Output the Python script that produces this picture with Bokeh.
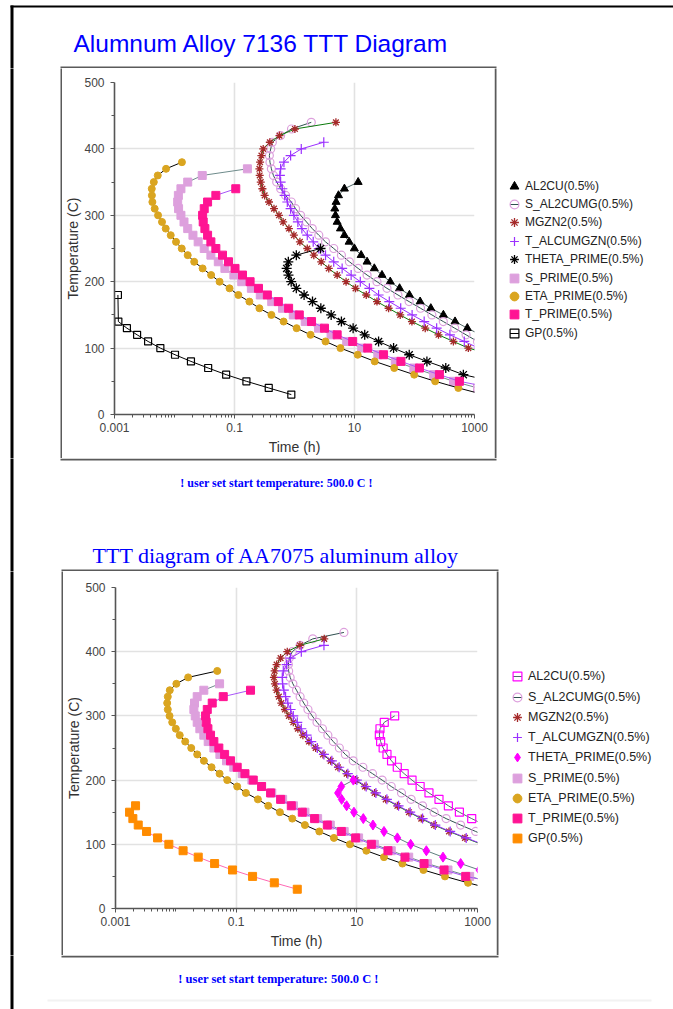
from bokeh.plotting import figure
from bokeh.layouts import column, row
from bokeh.models import (BoxAnnotation, FixedTicker, Label, Legend, LegendItem,
                          Range1d)
from bokeh.embed import file_html
from bokeh.resources import INLINE

# ---------------------------------------------------------------------------
# Alloy 7136: isothermal temperature (C) and time (h) to reach 0.5 % of phase
# ---------------------------------------------------------------------------
A7136_AL2CU_T = [350, 340, 330, 320, 310, 300, 290, 280, 270, 260, 250, 240,
                 230, 220, 210, 200, 190, 180, 170, 160, 150, 140, 130, 120]
A7136_AL2CU_H = [11.5, 6.79, 5.41, 4.94, 4.70, 4.82, 5.14, 5.83, 6.79, 8.13,
                 9.95, 12.9, 16.2, 21.4, 28.7, 39.4, 56.4, 82.2, 124, 187,
                 303, 474, 759, 1259]

A7136_S_AL2CUMG_T = [440, 430, 420, 410, 400, 390, 380, 370, 360, 350, 340,
                     330, 320, 310, 300, 290, 280, 270, 260, 250, 240, 230,
                     220, 210, 200, 190, 180, 170, 160, 150, 140, 130, 120, 110]
A7136_S_AL2CUMG_H = [1.905, 0.891, 0.587, 0.427, 0.401, 0.381, 0.39, 0.412,
                     0.445, 0.505, 0.587, 0.711, 0.885, 1.042, 1.262, 1.585,
                     1.977, 2.541, 3.289, 4.508, 6.053, 8.222, 11.5, 16.2,
                     23.7, 34.8, 53.0, 81.3, 126, 195, 302, 468, 724, 1122]

A7136_MGZN2_T = [440, 430, 420, 410, 400, 390, 380, 370, 360, 350, 340, 330,
                 320, 310, 300, 290, 280, 270, 260, 250, 240, 230, 220, 210,
                 200, 190, 180, 170, 160, 150, 140, 130, 120, 110, 100, 90]
A7136_MGZN2_H = [4.90, 1.016, 0.562, 0.388, 0.301, 0.281, 0.267, 0.26, 0.263,
                 0.274, 0.292, 0.318, 0.376, 0.455, 0.551, 0.646, 0.807, 0.977,
                 1.23, 1.633, 2.099, 2.786, 3.724, 5.14, 7.24, 10.4, 15.7, 23.7,
                 37.0, 57.8, 90.6, 151, 251, 445, 789, 1995]

A7136_T_ALCUMGZN_T = [410, 400, 390, 380, 370, 360, 350, 340, 330, 320, 310,
                      300, 290, 280, 270, 260, 250, 240, 230, 220, 210, 200,
                      190, 180, 170, 160, 150, 140, 130, 120, 110, 100]
A7136_T_ALCUMGZN_H = [3.076, 1.297, 0.861, 0.667, 0.587, 0.571, 0.587, 0.627,
                      0.685, 0.759, 0.861, 0.977, 1.138, 1.327, 1.633, 2.051,
                      2.541, 3.289, 4.508, 6.223, 8.79, 12.5, 17.7, 25.2, 38.0,
                      58.9, 91.2, 145, 234, 389, 676, 1175]

A7136_THETA_PRIME_T = [250, 240, 230, 220, 210, 200, 190, 180, 170, 160, 150,
                       140, 130, 120, 110, 100, 90, 80, 70, 60, 50]
A7136_THETA_PRIME_H = [2.716, 1.072, 0.789, 0.74, 0.794, 0.881, 1.072, 1.445,
                       1.995, 2.748, 4.083, 6.053, 9.484, 14.8, 25.2, 44.8,
                       81.7, 161, 332, 652, 1995]

A7136_S_PRIME_T = [370, 360, 350, 340, 330, 320, 310, 300, 290, 280, 270, 260,
                   250, 240, 230, 220, 210, 200, 190, 180, 170, 160, 150, 140,
                   130, 120, 110, 100, 90, 80, 70, 60, 50, 40]
A7136_S_PRIME_H = [0.164, 0.029, 0.0166, 0.0128, 0.0116, 0.0113, 0.0117,
                   0.0128, 0.0144, 0.0166, 0.0203, 0.0248, 0.0313, 0.0404,
                   0.0537, 0.0692, 0.0977, 0.132, 0.191, 0.269, 0.417, 0.631,
                   0.955, 1.51, 2.51, 4.07, 7.41, 13.2, 24.5, 47.9, 97.7, 209,
                   447, 1122]

A7136_ETA_PRIME_T = [380, 370, 360, 350, 340, 330, 320, 310, 300, 290, 280,
                     270, 260, 250, 240, 230, 220, 210, 200, 190, 180, 170,
                     160, 150, 140, 130, 120, 110, 100, 90, 80, 70, 60, 50, 40,
                     30]
A7136_ETA_PRIME_H = [0.0133, 0.00723, 0.00526, 0.00452, 0.00418, 0.0042,
                     0.00428, 0.00468, 0.00532, 0.00619, 0.00714, 0.00865,
                     0.0106, 0.0132, 0.0166, 0.0213, 0.0294, 0.0408, 0.0564,
                     0.0826, 0.116, 0.177, 0.26, 0.412, 0.659, 1.084, 1.854,
                     3.289, 5.834, 11.3, 21.7, 46.0, 98.9, 221, 538, 1413]

A7136_T_PRIME_T = [340, 330, 320, 310, 300, 290, 280, 270, 260, 250, 240, 230,
                   220, 210, 200, 190, 180, 170, 160, 150, 140, 130, 120, 110,
                   100, 90, 80, 70, 60, 50, 40]
A7136_T_PRIME_H = [0.105, 0.0489, 0.0356, 0.0313, 0.0294, 0.0301, 0.0321,
                   0.0356, 0.0404, 0.0489, 0.0631, 0.0794, 0.102, 0.136, 0.182,
                   0.251, 0.353, 0.538, 0.798, 1.202, 1.923, 3.162, 5.14,
                   9.33, 16.6, 30.5, 59.4, 121, 260, 560, 1995]

A7136_GP_T = [180, 140, 130, 120, 110, 100, 90, 80, 70, 60, 50, 40, 30]
A7136_GP_H = [0.00114, 0.00116, 0.00161, 0.00238, 0.00363, 0.00581, 0.0102,
              0.0188, 0.0364, 0.0726, 0.158, 0.372, 0.885]

# ---------------------------------------------------------------------------
# Alloy 7075
# ---------------------------------------------------------------------------
A7075_AL2CU_T = [300, 290, 280, 270, 260, 250, 240, 230, 220, 210, 200, 190,
                 180, 170, 160, 150, 140, 130]
A7075_AL2CU_H = [42.4, 28.5, 24.2, 23.6, 24.8, 27.3, 31.6, 37.6, 46.8, 61.0,
                 82.2, 112, 157, 230, 329, 501, 802, 1318]

A7075_S_AL2CUMG_T = [430, 420, 410, 400, 390, 380, 370, 360, 350, 340, 330,
                     320, 310, 300, 290, 280, 270, 260, 250, 240, 230, 220,
                     210, 200, 190, 180, 170, 160, 150, 140, 130, 120, 110]
A7075_S_AL2CUMG_H = [6.11, 1.862, 1.148, 0.851, 0.759, 0.733, 0.741, 0.785,
                     0.871, 1.0, 1.148, 1.318, 1.549, 1.82, 2.188, 2.692,
                     3.311, 4.074, 5.129, 6.457, 8.71, 12.6, 18.2, 26.3, 37.2,
                     55.0, 79.4, 123, 191, 302, 525, 933, 1585]

A7075_MGZN2_T = [420, 410, 400, 390, 380, 370, 360, 350, 340, 330, 320, 310,
                 300, 290, 280, 270, 260, 250, 240, 230, 220, 210, 200, 190,
                 180, 170, 160, 150, 140, 130, 120, 110, 100]
A7075_MGZN2_H = [2.884, 1.14, 0.703, 0.545, 0.468, 0.434, 0.422, 0.439, 0.468,
                 0.511, 0.56, 0.643, 0.748, 0.885, 1.054, 1.276, 1.607, 2.075,
                 2.742, 3.681, 4.864, 6.776, 9.55, 13.6, 19.7, 30.1, 47.0,
                 73.1, 117, 190, 337, 621, 1175]

A7075_T_ALCUMGZN_T = [410, 400, 390, 380, 370, 360, 350, 340, 330, 320, 310,
                      300, 290, 280, 270, 260, 250, 240, 230, 220, 210, 200,
                      190, 180, 170, 160, 150, 140, 130, 120, 110, 100]
A7075_T_ALCUMGZN_H = [2.851, 1.202, 0.798, 0.686, 0.604, 0.581, 0.589, 0.617,
                      0.659, 0.719, 0.798, 0.885, 1.03, 1.202, 1.469, 1.758,
                      2.213, 2.851, 3.855, 5.093, 7.096, 10.0, 14.3, 20.7,
                      31.5, 49.2, 76.6, 123, 200, 353, 650, 1230]

A7075_THETA_PRIME_T = [200, 190, 180, 170, 160, 150, 140, 130, 120, 110, 100,
                       90, 80, 70, 60]
A7075_THETA_PRIME_H = [8.75, 5.534, 4.864, 5.598, 6.776, 8.954, 12.8, 18.5,
                       28.2, 47.0, 78.0, 142, 268, 526, 1072]

A7075_S_PRIME_T = [350, 340, 330, 320, 310, 300, 290, 280, 270, 260, 250, 240,
                   230, 220, 210, 200, 190, 180, 170, 160, 150, 140, 130, 120,
                   110, 100, 90, 80, 70, 60, 50, 40]
A7075_S_PRIME_H = [0.0531, 0.0291, 0.0226, 0.0204, 0.0199, 0.021, 0.0226,
                   0.025, 0.0291, 0.0344, 0.0427, 0.0537, 0.0692, 0.0912,
                   0.126, 0.182, 0.263, 0.389, 0.589, 0.891, 1.38, 2.24, 3.63,
                   6.17, 10.7, 19.5, 37.2, 72.4, 148, 324, 741, 1778]

A7075_ETA_PRIME_T = [370, 360, 350, 340, 330, 320, 310, 300, 290, 280, 270,
                     260, 250, 240, 230, 220, 210, 200, 190, 180, 170, 160,
                     150, 140, 130, 120, 110, 100, 90, 80, 70, 60, 50, 40, 30]
A7075_ETA_PRIME_H = [0.0486, 0.016, 0.0102, 0.00794, 0.00736, 0.00719,
                     0.00736, 0.00787, 0.00871, 0.01, 0.0116, 0.0143, 0.018,
                     0.0226, 0.0292, 0.0391, 0.0531, 0.0711, 0.104, 0.145,
                     0.229, 0.34, 0.531, 0.851, 1.377, 2.388, 4.169, 7.691,
                     14.4, 28.2, 56.9, 127, 289, 697, 1778]

A7075_T_PRIME_T = [340, 330, 320, 310, 300, 290, 280, 270, 260, 250, 240, 230,
                   220, 210, 200, 190, 180, 170, 160, 150, 140, 130, 120, 110,
                   100, 90, 80, 70, 60, 50, 40]
A7075_T_PRIME_H = [0.173, 0.0611, 0.0401, 0.0332, 0.0311, 0.0319, 0.034,
                   0.0376, 0.0427, 0.0516, 0.0643, 0.0807, 0.104, 0.14, 0.192,
                   0.264, 0.372, 0.545, 0.82, 1.247, 1.995, 3.243, 5.534, 9.55,
                   17.4, 32.8, 62.8, 130, 279, 637, 2239]

A7075_GP_T = [160, 150, 140, 130, 120, 110, 100, 90, 80, 70, 60, 50, 40, 30]
A7075_GP_H = [0.00215, 0.00171, 0.00194, 0.00238, 0.00327, 0.00498, 0.00766,
              0.0132, 0.0235, 0.0439, 0.0871, 0.187, 0.429, 1.03]

SUFFIX = "(0.5%)"
START_NOTE = "! user set start temperature: 500.0 C !"

# colours
BLUE = "#0000ff"
PLUM = "#dda0dd"
VIOLET = "#9b30ff"
BROWN = "#a52a2a"
GOLD = "#daa520"
DEEPPINK = "#ff1493"
MAGENTA = "#ff00ff"
SLATE = "#2f4f4f"
GREY_TEAL = "#6e8b8b"
BOX_GREY = "#5a5a5a"


def series(name, t, h, marker, size, fill, edge, path, lw=1.0, keyline=False):
    return dict(name=name, t=t, h=h, marker=marker, size=size, fill=fill,
                edge=edge, path=path, lw=lw, keyline=keyline)


SERIES_7136 = [
    series("AL2CU", A7136_AL2CU_T, A7136_AL2CU_H, "triangle", 8, "black", "black", "#4f6666"),
    series("S_AL2CUMG", A7136_S_AL2CUMG_T, A7136_S_AL2CUMG_H, "circle", 8, None, PLUM, SLATE, 1.2, True),
    series("MGZN2", A7136_MGZN2_T, A7136_MGZN2_H, "asterisk", 8, None, BROWN, "#0b7a0b", 1.3),
    series("T_ALCUMGZN", A7136_T_ALCUMGZN_T, A7136_T_ALCUMGZN_H, "cross", 10, None, VIOLET, VIOLET, 1.2),
    series("THETA_PRIME", A7136_THETA_PRIME_T, A7136_THETA_PRIME_H, "asterisk", 10, None, "black", "black", 1.3),
    series("S_PRIME", A7136_S_PRIME_T, A7136_S_PRIME_H, "square", 8, PLUM, PLUM, GREY_TEAL),
    series("ETA_PRIME", A7136_ETA_PRIME_T, A7136_ETA_PRIME_H, "circle", 7, GOLD, GOLD, "black"),
    series("T_PRIME", A7136_T_PRIME_T, A7136_T_PRIME_H, "square", 8, DEEPPINK, DEEPPINK, "#a855f7"),
    series("GP", A7136_GP_T, A7136_GP_H, "square", 7, None, "black", "black", 1.2, True),
]

SERIES_7075 = [
    series("AL2CU", A7075_AL2CU_T, A7075_AL2CU_H, "square", 8, None, MAGENTA, "#4f6a6a", 1.2, True),
    series("S_AL2CUMG", A7075_S_AL2CUMG_T, A7075_S_AL2CUMG_H, "circle", 8, None, PLUM, SLATE, 1.2, True),
    series("MGZN2", A7075_MGZN2_T, A7075_MGZN2_H, "asterisk", 8, None, BROWN, "#0b7a0b", 1.3),
    series("T_ALCUMGZN", A7075_T_ALCUMGZN_T, A7075_T_ALCUMGZN_H, "cross", 10, None, VIOLET, VIOLET, 1.2),
    series("THETA_PRIME", A7075_THETA_PRIME_T, A7075_THETA_PRIME_H, "diamond", 10, MAGENTA, MAGENTA, "#5f7f7f"),
    series("S_PRIME", A7075_S_PRIME_T, A7075_S_PRIME_H, "square", 8, PLUM, PLUM, GREY_TEAL),
    series("ETA_PRIME", A7075_ETA_PRIME_T, A7075_ETA_PRIME_H, "circle", 7, GOLD, GOLD, "black"),
    series("T_PRIME", A7075_T_PRIME_T, A7075_T_PRIME_H, "square", 8, DEEPPINK, DEEPPINK, "#a855f7"),
    series("GP", A7075_GP_T, A7075_GP_H, "square", 8, "#ff8c00", "#ff8c00", "#ff69b4"),
]

X_MAJOR = [0.001, 0.1, 10, 1000]
X_MINOR = [m * 10.0 ** e for e in range(-3, 3) for m in range(1, 10)]
Y_MAJOR = [0, 100, 200, 300, 400, 500]
Y_MINOR = [50, 150, 250, 350, 450]

KEY_W, KEY_H = 22, 26   # legend glyph box


def strip(w, h):
    """A plain drawing surface in pixel units (y grows downwards)."""
    s = figure(width=w, height=h, x_range=Range1d(0, w), y_range=Range1d(h, 0),
               output_backend="svg", toolbar_location=None,
               x_axis_location=None, y_axis_location=None,
               min_border=0, min_border_left=0, min_border_right=0,
               min_border_top=0, min_border_bottom=0, frame_align=False,
               background_fill_color="white", border_fill_color="white")
    s.outline_line_color = None
    s.grid.visible = False
    return s


def rect(s, left, right, top, bottom, color):
    s.add_layout(BoxAnnotation(left=left, right=right, top=top, bottom=bottom,
                               fill_color=color, fill_alpha=1.0,
                               line_color=None))


def text(s, x, y, txt, font, size, style="normal", align="left"):
    s.add_layout(Label(x=x, y=y, text=txt, text_font=font,
                       text_font_size=size, text_font_style=style,
                       text_color=BLUE, text_align=align,
                       text_baseline="alphabetic"))


def page_edge(s, h, top=-4):
    # runs past the strip ends so consecutive strips join without a seam
    rect(s, 10, 13, top, h + 4, "black")


def ttt_chart(all_series, w, h, borders):
    left, right, top, bottom = borders
    p = figure(width=w, height=h, x_axis_type="log",
               x_range=Range1d(0.001, 1000), y_range=Range1d(0, 500),
               output_backend="svg", toolbar_location=None,
               min_border_left=left, min_border_right=right,
               min_border_top=top, min_border_bottom=bottom,
               frame_align=False,
               background_fill_color="white", border_fill_color="white")
    p.outline_line_color = None

    xa, ya = p.xaxis[0], p.yaxis[0]
    xa.ticker = FixedTicker(ticks=X_MAJOR, minor_ticks=X_MINOR)
    xa.major_label_overrides = {0.001: "0.001", 0.1: "0.1", 10: "10", 1000: "1000"}
    ya.ticker = FixedTicker(ticks=Y_MAJOR, minor_ticks=Y_MINOR)
    xa.axis_label = "Time (h)"
    ya.axis_label = "Temperature (C)"
    for ax in (xa, ya):
        ax.axis_line_color = "#555555"
        ax.axis_line_width = 1.6
        ax.major_tick_line_color = "#555555"
        ax.minor_tick_line_color = "#555555"
        ax.major_tick_in = 0
        ax.major_tick_out = 4
        ax.minor_tick_in = 0
        ax.minor_tick_out = 3
        ax.major_label_text_font = "Liberation Sans"
        ax.major_label_text_font_size = "12px"
        ax.major_label_text_color = "#444444"
        ax.axis_label_text_font = "Liberation Sans"
        ax.axis_label_text_font_size = "14px"
        ax.axis_label_text_font_style = "normal"
        ax.axis_label_text_color = "#333333"
    xa.major_label_standoff = 4
    xa.axis_label_standoff = 4
    ya.major_label_standoff = 6
    ya.axis_label_standoff = 0

    p.xgrid.ticker = FixedTicker(ticks=[0.1, 10])
    p.ygrid.ticker = FixedTicker(ticks=[100, 200, 300, 400, 500])
    for g in (p.xgrid[0], p.ygrid[0]):
        g.grid_line_color = "#e2e2e2"
        g.grid_line_width = 1.6

    for s in all_series:
        p.line(s["h"], s["t"], line_color=s["path"], line_width=1)
        p.scatter(s["h"], s["t"], marker=s["marker"], size=s["size"],
                  fill_color=s["fill"], line_color=s["edge"],
                  line_width=s["lw"])
    return p


def legend_panel(all_series, w, h, key_left, first_row, pitch, font_size):
    """Right-hand column holding the phase key of one diagram."""
    s = strip(w, h)
    rect(s, 0, 2, -4, h + 4, BOX_GREY)  # right edge of the diagram box
    for k, ser in enumerate(all_series):
        # hidden stand-ins carrying the series' styling for the key
        rs = []
        if ser["keyline"]:
            rs.append(s.scatter(x=ser["h"], y=ser["t"], marker="dash",
                                size=ser["size"], line_color=ser["path"],
                                line_width=1, visible=False))
        rs.append(s.scatter(x=ser["h"], y=ser["t"], marker=ser["marker"],
                            size=ser["size"], fill_color=ser["fill"],
                            line_color=ser["edge"], line_width=ser["lw"],
                            visible=False))
        centre = first_row + k * pitch
        s.add_layout(Legend(items=[LegendItem(label=ser["name"] + SUFFIX,
                                              renderers=rs)],
                            location=(key_left, h - centre - KEY_H / 2),
                            orientation="vertical",
                            glyph_width=KEY_W, glyph_height=KEY_H,
                            label_height=12, spacing=0, label_standoff=0,
                            padding=0, margin=0,
                            label_text_font="Liberation Sans",
                            label_text_font_size=font_size,
                            label_text_color="#222222",
                            inactive_fill_alpha=0.0,
                            background_fill_alpha=0.0,
                            border_line_alpha=0.0))
    return s


def left_panel(w, h, edge_left):
    s = strip(w, h)
    page_edge(s, h)
    rect(s, edge_left, edge_left + 2, -4, h + 4, BOX_GREY)
    return s


# ---- header: page frame and first title ------------------------------------
hdr = strip(673, 68)
rect(hdr, 10, 677, 5, 7, "black")
page_edge(hdr, 68, top=5)
rect(hdr, 60, 496, 66, 68, BOX_GREY)
text(hdr, 73, 42.5, "Alumnum Alloy 7136 TTT Diagram",
     "Liberation Sans", "24.5px")

# ---- 7136 diagram ----------------------------------------------------------
chart1 = ttt_chart(SERIES_7136, 432, 390, (51, 20, 14, 44))
mid1 = row(left_panel(62, 390, 60), chart1,
           legend_panel(SERIES_7136, 179, 390, 9, 117.5, 18.4, "12px"),
           spacing=0)

# ---- gap between the two diagrams ------------------------------------------
gap = strip(673, 113)
page_edge(gap, 113)
rect(gap, 60, 496, 0, 2, BOX_GREY)
rect(gap, 61, 498, 111, 113, BOX_GREY)
text(gap, 276, 24, START_NOTE, "Liberation Serif", "12px", style="bold",
     align="center")
text(gap, 92, 97, "TTT diagram of AA7075 aluminum alloy",
     "Liberation Serif", "22px")

# ---- 7075 diagram ----------------------------------------------------------
chart2 = ttt_chart(SERIES_7075, 433, 384, (52, 19, 16, 47))
mid2 = row(left_panel(63, 384, 61), chart2,
           legend_panel(SERIES_7075, 177, 384, 10, 105.3, 20.25, "12.5px"),
           spacing=0)

# ---- footer ----------------------------------------------------------------
ftr = strip(673, 54)
page_edge(ftr, 54)
rect(ftr, 61, 498, 0, 2, BOX_GREY)
rect(ftr, 47, 651, 44, 46, "#f2f2f2")
text(ftr, 278, 23, START_NOTE, "Liberation Serif", "12.5px", style="bold",
     align="center")

page = column(hdr, mid1, gap, mid2, ftr, spacing=0)
open("out.html", "w").write(file_html(page, INLINE))
